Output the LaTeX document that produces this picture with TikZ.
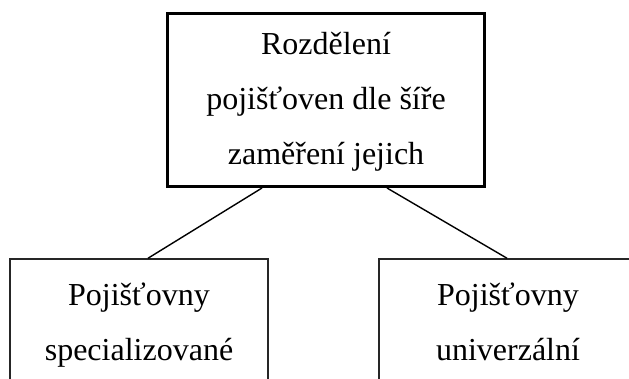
\documentclass[tikz,border=0pt]{standalone}
\usepackage{fontspec}
\setmainfont{Liberation Serif}
\begin{document}
\begin{tikzpicture}[x=1pt,y=1pt,
  topbox/.style={draw=black, line width=3pt, minimum width=317pt, minimum height=173pt, inner sep=0pt},
  leafbox/.style={draw=black!85, line width=1.5pt, minimum width=258pt, minimum height=159pt, inner sep=0pt},
  txt/.style={anchor=base, inner sep=0pt, font=\fontsize{32}{38}\selectfont},
  link/.style={draw=black, line width=1.4pt}]
\clip (0,0) rectangle (629,378);
\fill[white] (0,0) rectangle (629,378);
% boxes
\node[topbox] (root) at (326,278) {};
\node[leafbox] (spec) at (139,39.5) {};
\node[leafbox] (univ) at (508,39.5) {};
% labels
\node[txt] (r1) at (326,323) {Rozdělení};
\node[txt] (r2) at (326,268) {pojišťoven dle šíře};
\node[txt] (r3) at (326,213) {zaměření jejich};
\node[txt] (s1) at (139,73) {Pojišťovny};
\node[txt] (s2) at (139,18) {specializované};
\node[txt] (u1) at (508,73) {Pojišťovny};
\node[txt] (u2) at (508,18) {univerzální};
% connectors
\draw[link] ([xshift=-64pt]root.south) -- ([xshift=9pt]spec.north);
\draw[link] ([xshift=61pt]root.south) -- ([xshift=-1pt]univ.north);
\end{tikzpicture}
\end{document}
